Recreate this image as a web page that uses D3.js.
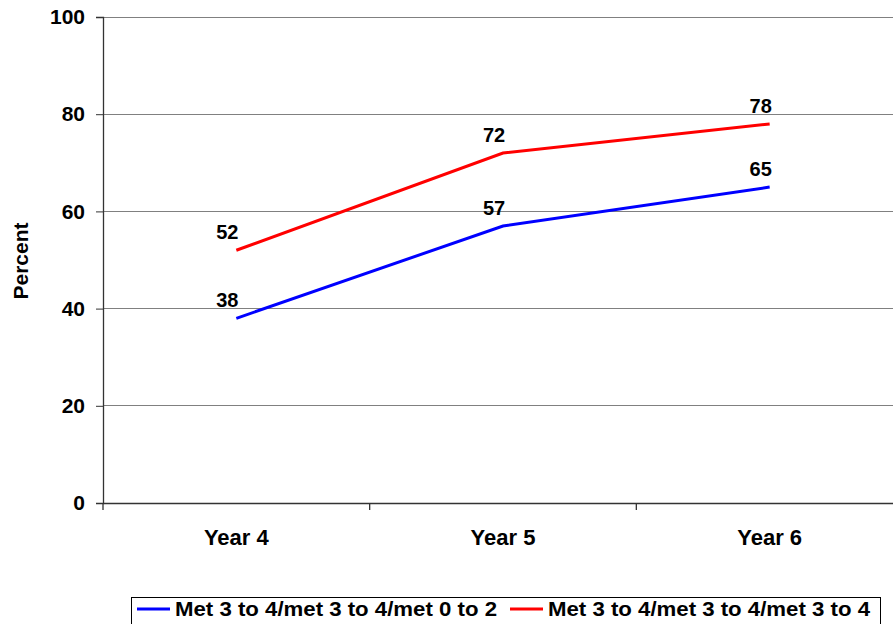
<!DOCTYPE html>
<html><head><meta charset="utf-8">
<script src="https://cdn.jsdelivr.net/npm/d3@7"></script>
<style>body{margin:0;background:#fff}svg{display:block}text{font-family:"Liberation Sans",Arial,sans-serif;font-weight:bold}</style>
</head><body>
<svg id="c" width="893" height="624"></svg>
<script>
const categories = ["Year 4", "Year 5", "Year 6"];
const seriesNames = ["Met 3 to 4/met 3 to 4/met 0 to 2", "Met 3 to 4/met 3 to 4/met 3 to 4"];
const seriesBlue = [38, 57, 65];
const seriesRed = [52, 72, 78];
const yTicks = [0, 20, 40, 60, 80, 100];
const colors = ["#0000FF", "#FF0000"];

const svg = d3.select("#c");
const x0 = 103, x1 = 903, yTop = 17, yBot = 503;
const x = d3.scaleBand().domain(categories).range([x0, x1]);
const y = d3.scaleLinear().domain([0, 100]).range([yBot, yTop]);
const FF = '"Liberation Sans",Arial,sans-serif';

// gridlines
svg.append("g").selectAll("line").data(yTicks.filter(d => d > 0)).join("line")
  .attr("x1", x0).attr("x2", x1).attr("y1", d => y(d)).attr("y2", d => y(d))
  .attr("stroke", "#808080").attr("stroke-width", 1).attr("shape-rendering", "crispEdges");

// y axis
const ya = svg.append("g").attr("transform", `translate(${x0},0)`)
  .call(d3.axisLeft(y).tickValues(yTicks).tickSize(7).tickPadding(11));
ya.select(".domain").attr("stroke", "#333").attr("stroke-width", 1.3);
ya.selectAll(".tick line").attr("stroke", "#333");
ya.selectAll("text").attr("font-size", 21).attr("fill", "#000")
  .style("font-family", FF).style("font-weight", "bold");

// x axis
const xa = svg.append("g").attr("transform", `translate(0,${yBot})`)
  .call(d3.axisBottom(x).tickSize(0).tickPadding(26));
xa.select(".domain").attr("stroke", "#333").attr("stroke-width", 1.3);
xa.selectAll("text").attr("font-size", 22).attr("fill", "#000")
  .style("font-family", FF).style("font-weight", "bold");
// category boundary ticks
svg.append("g").selectAll("line").data(categories).join("line")
  .attr("x1", d => x(d)).attr("x2", d => x(d)).attr("y1", yBot).attr("y2", yBot + 7)
  .attr("stroke", "#333").attr("stroke-width", 1.3);

// y title
svg.append("text").attr("transform", `translate(28,${(y(40)+y(60))/2 + 1}) rotate(-90)`)
  .attr("text-anchor", "middle").attr("font-size", 21).text("Percent");

const series = [seriesBlue, seriesRed];
const line = d3.line().x((d, i) => x(categories[i]) + x.bandwidth() / 2).y(d => y(d));
series.forEach((s, k) => {
  svg.append("path").datum(s).attr("d", line).attr("fill", "none")
    .attr("stroke", colors[k]).attr("stroke-width", 3);
  svg.append("g").selectAll("text").data(s).join("text")
    .attr("x", (d, i) => x(categories[i]) + x.bandwidth() / 2 - 9)
    .attr("y", d => y(d) - 11)
    .attr("text-anchor", "middle").attr("font-size", 20).text(d => d);
});

// legend
const lg = svg.append("g");
lg.append("rect").attr("x", 131.5).attr("y", 597.5).attr("width", 749).attr("height", 40)
  .attr("fill", "#fff").attr("stroke", "#000").attr("stroke-width", 1);
const lx = [137, 510];
seriesNames.forEach((n, k) => {
  lg.append("line").attr("x1", lx[k]).attr("x2", lx[k] + 33).attr("y1", 609).attr("y2", 609)
    .attr("stroke", colors[k]).attr("stroke-width", 3);
  lg.append("text").attr("x", lx[k] + 38).attr("y", 616).attr("font-size", 20)
    .attr("textLength", 322).attr("lengthAdjust", "spacingAndGlyphs").text(n);
});
</script>
</body></html>
